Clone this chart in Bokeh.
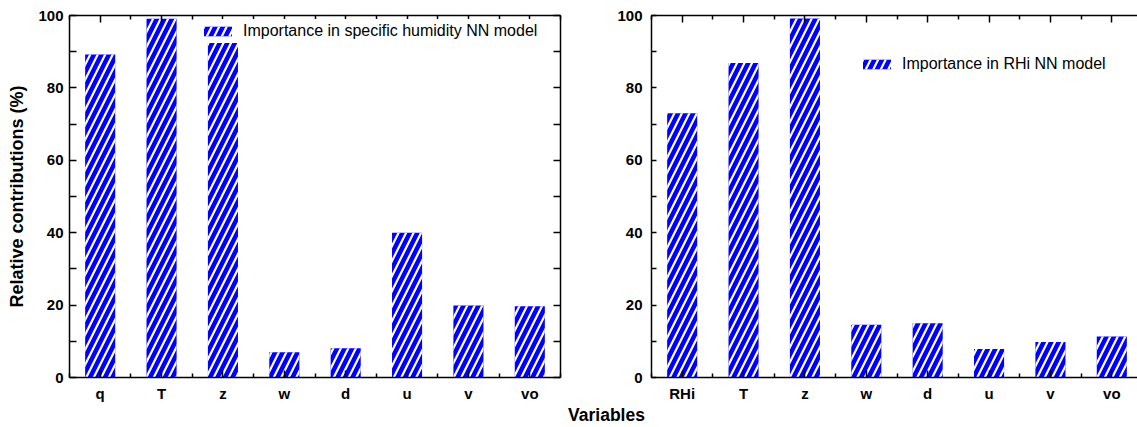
from bokeh.plotting import figure
from bokeh.models import (FixedTicker, LinearAxis, Range1d, Legend, LegendItem, Label,
                          CustomLabelingPolicy)
from bokeh.layouts import column, row
from bokeh.embed import file_html
from bokeh.resources import INLINE

# ---- data ----
cats_q = ["q", "T", "z", "w", "d", "u", "v", "vo"]
vals_q = [89.2, 99.1, 99.0, 7.0, 8.1, 40.0, 19.9, 19.7]
cats_rhi = ["RHi", "T", "z", "w", "d", "u", "v", "vo"]
vals_rhi = [73.0, 86.9, 99.2, 14.6, 15.0, 7.9, 9.8, 11.3]
y_ticks = [0, 20, 40, 60, 80, 100]
y_minor = [10, 30, 50, 70, 90]
legend_q = "Importance in specific humidity NN model"
legend_rhi = "Importance in RHi NN model"
y_title = "Relative contributions (%)"
x_title = "Variables"

FONT = "Liberation Sans"
BLUE = "#0000FF"


def style_axis(ax, tick_in, minor_in, labels=True, size="15px"):
    ax.axis_line_width = 1.5
    ax.axis_line_color = "black"
    ax.major_tick_line_width = 1.5
    ax.minor_tick_line_width = 1.5
    ax.major_tick_in = tick_in
    ax.major_tick_out = 0
    ax.minor_tick_in = minor_in
    ax.minor_tick_out = 0
    ax.major_label_text_font = FONT
    ax.major_label_text_font_style = "bold"
    ax.major_label_text_color = "black"
    if labels:
        ax.major_label_text_font_size = size
    else:
        ax.major_label_text_font_size = "1px"
        ax.major_label_standoff = 0
        ax.major_label_policy = CustomLabelingPolicy(code="return new Set();")


def make_panel(cats, vals, leg_text, fw, bl, br, x_end, leg_loc, ytick_in, ystand, right_axis, ylabel):
    xs = list(range(1, len(cats) + 1))
    xt = FixedTicker(ticks=xs, minor_ticks=[i + 0.5 for i in range(0, len(cats) + 1)])
    yt = FixedTicker(ticks=y_ticks, minor_ticks=y_minor)
    p = figure(frame_width=fw, frame_height=362, x_range=Range1d(0.5, x_end), y_range=Range1d(0, 100),
               output_backend="svg", toolbar_location=None,
               min_border_left=bl, min_border_right=br, min_border_top=15, min_border_bottom=24)
    p.outline_line_color = None
    p.grid.grid_line_color = None
    p.background_fill_color = "white"
    p.border_fill_color = "white"

    r = p.vbar(x=xs, top=vals, width=0.49, bottom=0, fill_color=BLUE, line_color=None,
               hatch_pattern="/", hatch_color="white", hatch_scale=15, hatch_weight=2.2)

    p.xaxis.ticker = xt
    p.xaxis.major_label_overrides = {x: c for x, c in zip(xs, cats)}
    style_axis(p.xaxis[0], 7, 4)
    p.xaxis.major_label_standoff = 7

    p.yaxis.ticker = yt
    style_axis(p.yaxis[0], ytick_in, ytick_in)
    p.yaxis.major_label_standoff = ystand
    if ylabel:
        p.yaxis.axis_label = ylabel
        p.yaxis.axis_label_text_font = FONT
        p.yaxis.axis_label_text_font_style = "bold"
        p.yaxis.axis_label_text_font_size = "18px"
        p.yaxis.axis_label_text_color = "black"
        p.yaxis.axis_label_standoff = 8

    top = LinearAxis(ticker=xt)
    style_axis(top, 7, 4, labels=False)
    p.add_layout(top, "above")

    if right_axis:
        ra = LinearAxis(ticker=yt)
        style_axis(ra, 7, 7, labels=False)
        p.add_layout(ra, "right")

    leg = Legend(items=[LegendItem(label=leg_text, renderers=[r])], location=leg_loc,
                 glyph_width=35, glyph_height=12, label_height=24, padding=5, margin=0,
                 label_standoff=8, spacing=0, border_line_color=None,
                 background_fill_color="white", background_fill_alpha=1.0,
                 label_text_font=FONT, label_text_font_size="16px", label_text_color="black")
    p.add_layout(leg)
    return p


p1 = make_panel(cats_q, vals_q, legend_q, 491, 69, 46, 8.5, (131, 334), 7, 6, True, y_title)
p2 = make_panel(cats_rhi, vals_rhi, legend_rhi, 486, 45, 0, 0.5 + 486 / 61.375, (208, 301), 5, 9, False, None)

p3 = figure(width=1137, height=24, x_range=Range1d(0, 1137), y_range=Range1d(0, 24),
            output_backend="svg", toolbar_location=None, x_axis_location=None, y_axis_location=None,
            min_border=0)
p3.outline_line_color = None
p3.grid.grid_line_color = None
p3.add_layout(Label(x=606, y=14, text=x_title, text_align="center", text_baseline="middle",
                    text_font=FONT, text_font_style="bold", text_font_size="17.5px", text_color="black"))

layout = column(row(p1, p2), p3)
open("out.html", "w").write(file_html(layout, INLINE))
